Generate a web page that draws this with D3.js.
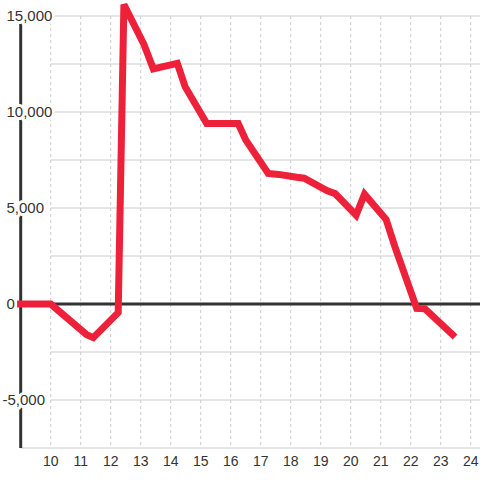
<!DOCTYPE html>
<html>
<head>
<meta charset="utf-8">
<script src="https://cdn.jsdelivr.net/npm/d3@7"></script>
<style>
  html, body { margin: 0; padding: 0; background: #fff; }
  svg { display: block; font-family: "Liberation Sans", Arial, sans-serif; }
</style>
</head>
<body>
<svg id="chart" width="480" height="480"></svg>
<script>
// Data
const xValues = [8.88, 10.0, 11.2, 11.42, 12.25, 12.44, 13.1, 13.42, 14.22, 14.48, 15.2, 16.25, 16.5, 17.25, 17.6, 18.2, 18.45, 19.22, 19.48, 20.18, 20.46, 21.18, 21.47, 22.2, 22.47, 23.48];
const values  = [0, 0, -1600, -1750, -450, 15600, 13550, 12250, 12530, 11320, 9400, 9400, 8550, 6800, 6750, 6600, 6550, 5900, 5750, 4620, 5720, 4400, 3000, -230, -250, -1720];
const xTicks = [10, 11, 12, 13, 14, 15, 16, 17, 18, 19, 20, 21, 22, 23, 24];
const yLabelTicks = [15000, 10000, 5000, 0, -5000];
const yGridTicks = [15000, 12500, 10000, 7500, 5000, 2500, -2500, -5000];

const W = 480, H = 480;
const svg = d3.select("#chart");

const x = d3.scaleLinear().domain([9, 24.31]).range([20.7, 480]);
const y = d3.scaleLinear().domain([-7500, 15000]).range([448, 16]);

const fmt = d3.format(",");

// horizontal gridlines
svg.append("g").selectAll("line").data(yGridTicks).join("line")
  .attr("x1", x(10)).attr("x2", W)
  .attr("y1", d => y(d)).attr("y2", d => y(d))
  .attr("stroke", "#cccccc").attr("stroke-width", 1);

// bottom baseline
svg.append("line")
  .attr("x1", x(9)).attr("x2", W)
  .attr("y1", y(-7500)).attr("y2", y(-7500))
  .attr("stroke", "#cccccc").attr("stroke-width", 1);

// vertical dashed gridlines
svg.append("g").selectAll("line").data(xTicks).join("line")
  .attr("x1", d => x(d)).attr("x2", d => x(d))
  .attr("y1", y(15000)).attr("y2", y(-7500))
  .attr("stroke", "#cccccc").attr("stroke-width", 1)
  .attr("stroke-dasharray", "3,3");

// zero line
svg.append("line")
  .attr("x1", x(9)).attr("x2", W)
  .attr("y1", y(0)).attr("y2", y(0))
  .attr("stroke", "#333333").attr("stroke-width", 3);

// y axis line
svg.append("line")
  .attr("x1", x(9)).attr("x2", x(9))
  .attr("y1", y(15000)).attr("y2", y(-7500))
  .attr("stroke", "#333333").attr("stroke-width", 3);

// y labels with white halo
svg.append("g").selectAll("text").data(yLabelTicks).join("text")
  .attr("x", d => d < 0 ? 2.5 : 6.5)
  .attr("y", d => y(d))
  .attr("dy", "0.35em")
  .attr("font-size", 15)
  .attr("fill", "#333333")
  .attr("stroke", "#ffffff").attr("stroke-width", 6)
  .attr("paint-order", "stroke")
  .attr("stroke-linejoin", "round")
  .text(d => fmt(d).replace("−", "-"));

// x labels
svg.append("g").selectAll("text").data(xTicks).join("text")
  .attr("x", d => x(d))
  .attr("y", 461)
  .attr("dy", "0.35em")
  .attr("text-anchor", "middle")
  .attr("font-size", 14)
  .attr("fill", "#333333")
  .text(d => d);

// data line
const pts = xValues.map((v, i) => [v, values[i]]);
const line = d3.line().x(d => x(d[0])).y(d => y(d[1]));
svg.append("path")
  .datum(pts)
  .attr("d", line)
  .attr("fill", "none")
  .attr("stroke", "#ed213a")
  .attr("stroke-width", 7)
  .attr("stroke-linejoin", "miter");
</script>
</body>
</html>
